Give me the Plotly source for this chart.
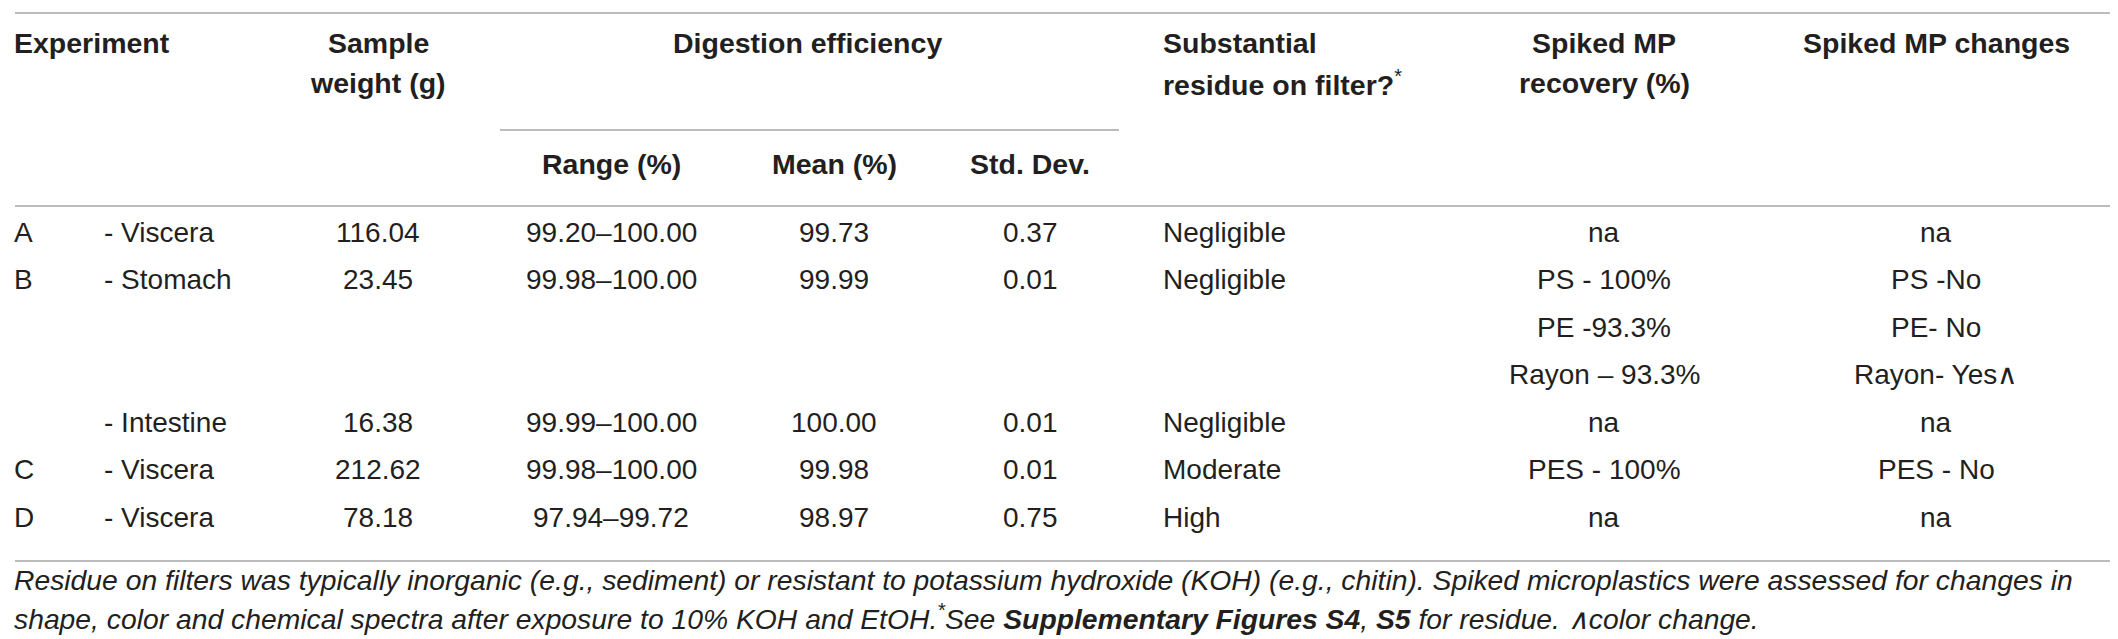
import plotly.graph_objects as go

W, H = 2118, 639

# ---------------- data ----------------
experiments = ["A", "B", "", "", "", "C", "D"]
tissues = ["- Viscera", "- Stomach", "", "", "- Intestine", "- Viscera", "- Viscera"]
sample_weights = [116.04, 23.45, None, None, 16.38, 212.62, 78.18]
range_low = [99.20, 99.98, None, None, 99.99, 99.98, 97.94]
range_high = [100.00, 100.00, None, None, 100.00, 100.00, 99.72]
means = [99.73, 99.99, None, None, 100.00, 99.98, 98.97]
std_devs = [0.37, 0.01, None, None, 0.01, 0.01, 0.75]
residues = ["Negligible", "Negligible", "", "", "Negligible", "Moderate", "High"]
recoveries = ["na", "PS - 100%", "PE -93.3%", "Rayon – 93.3%", "na", "PES - 100%", "na"]
changes = ["na", "PS -No", "PE- No", "Rayon- Yes∧", "na", "PES - No", "na"]

header_line1 = ["Experiment", "Sample", "Digestion efficiency", "Substantial", "Spiked MP", "Spiked MP changes"]
header_line2 = ["", "weight (g)", "", "residue on filter?<span style='font-weight:normal'><sup>*</sup></span>", "recovery (%)", ""]
sub_headers = ["Range (%)", "Mean (%)", "Std. Dev."]

footnote_lines = [
    "Residue on filters was typically inorganic (e.g., sediment) or resistant to potassium hydroxide (KOH) (e.g., chitin). Spiked microplastics were assessed for changes in",
    "shape, color and chemical spectra after exposure to 10% KOH and EtOH.<sup>*</sup>See <b>Supplementary Figures S4</b>, <b>S5</b> for residue. ∧color change.",
]

# ---------------- layout constants ----------------
TXT = "#231f20"
RULE = "#a6a6a6"
FONT = "Liberation Sans, Arial, sans-serif"
BODY = 28
HEAD = 28.5
FOOT = 28.3
DY = -7  # visual centring correction for text

LEFT, RIGHT = 7, 2113
col_x = {"exp": 5, "tis": 95, "w": 370, "rng": 603, "mean": 826, "sd": 1022,
         "res": 1154, "rec": 1596, "chg": 1928}
head1_x = [(5, "left"), (370, "center"), (799, "center"), (1154, "left"), (1596, "center"), (1928, "center")]
sub_x = [603, 826, 1022]
Y_H1, Y_H2, Y_SUB = 42, 82, 163
ROW_Y0, ROW_H = 231, 47.5
Y_FOOT0, FOOT_H = 579, 37

fig = go.Figure()
fig.add_trace(go.Scatter(x=[0, W], y=[0, H], mode="markers", marker=dict(opacity=0),
                         hoverinfo="skip", showlegend=False))

ann = []


def add(x, y, text, anchor="center", bold=False, size=BODY, italic=False):
    t = text
    if bold:
        t = f"<b>{t}</b>"
    if italic:
        t = f"<i>{t}</i>"
    ann.append(dict(x=x, y=y + DY, xref="x", yref="y", text=t, showarrow=False,
                    xanchor=anchor, yanchor="middle", borderpad=0,
                    font=dict(family=FONT, size=size, color=TXT)))


# headers
for (x, anc), t1, t2 in zip(head1_x, header_line1, header_line2):
    add(x, Y_H1, t1, anc, bold=True, size=HEAD)
    if t2:
        add(x, Y_H2, t2, anc, bold=True, size=HEAD)
for x, t in zip(sub_x, sub_headers):
    add(x, Y_SUB, t, "center", bold=True, size=HEAD)


def fmt(v):
    return "" if v is None else f"{v:.2f}"


for i in range(len(experiments)):
    y = ROW_Y0 + i * ROW_H
    cells = [
        (col_x["exp"], experiments[i], "left"),
        (col_x["tis"], tissues[i], "left"),
        (col_x["w"], fmt(sample_weights[i]), "center"),
        (col_x["rng"], "" if range_low[i] is None else f"{range_low[i]:.2f}–{range_high[i]:.2f}", "center"),
        (col_x["mean"], fmt(means[i]), "center"),
        (col_x["sd"], fmt(std_devs[i]), "center"),
        (col_x["res"], residues[i], "left"),
        (col_x["rec"], recoveries[i], "center"),
        (col_x["chg"], changes[i], "center"),
    ]
    for x, t, anc in cells:
        if t:
            add(x, y, t, anc)

for j, line in enumerate(footnote_lines):
    add(LEFT - 2, Y_FOOT0 + j * FOOT_H, line, "left", size=FOOT, italic=True)

shapes = []
for y in (5, 198, 553):
    shapes.append(dict(type="line", xref="x", yref="y", x0=LEFT, x1=RIGHT, y0=y, y1=y,
                       line=dict(color=RULE, width=1.6)))
shapes.append(dict(type="line", xref="x", yref="y", x0=492, x1=1111, y0=122, y1=122,
                   line=dict(color=RULE, width=1.6)))

fig.update_layout(
    width=W, height=H, margin=dict(l=0, r=0, t=0, b=0),
    paper_bgcolor="white", plot_bgcolor="white",
    xaxis=dict(range=[0, W], visible=False, fixedrange=True),
    yaxis=dict(range=[H, 0], visible=False, fixedrange=True),
    annotations=ann, shapes=shapes, showlegend=False,
)

fig.write_html("out.html", config={"displayModeBar": False})
